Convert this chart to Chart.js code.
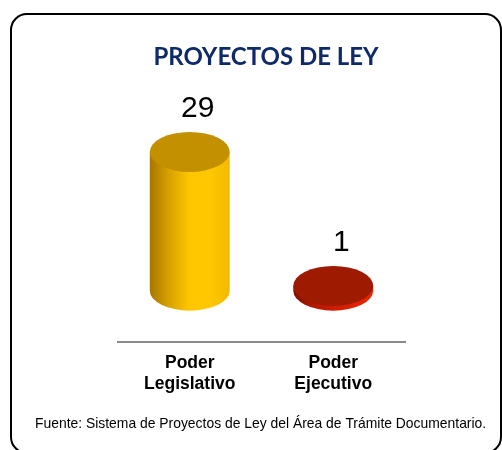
<!DOCTYPE html>
<html>
<head>
<meta charset="utf-8">
<script src="https://cdn.jsdelivr.net/npm/chart.js@4/dist/chart.umd.min.js"></script>
<style>
  html, body { margin: 0; padding: 0; background: #fff; }
  #wrap { width: 502px; height: 450px; }
</style>
</head>
<body>
<div id="wrap"><canvas id="chart" width="502" height="450"></canvas></div>
<script>
// data
const categories = [['Poder', 'Legislativo'], ['Poder', 'Ejecutivo']];
const values = [29, 1];
const chartTitle = 'PROYECTOS DE LEY';
const footnote = 'Fuente: Sistema de Proyectos de Ley del Área de Trámite Documentario.';

// cylinder colours per bar: side gradient stops and top
const sideColors = [
    ['#a87600', '#d9a300', '#ffc600', '#ffc800', '#f2ba00'],
    ['#7e1000', '#b01800', '#cc1c00', '#dc2200', '#e62800']
];
const topColors = ['#c39000', '#9e1a00'];

// draws the round frame around the whole picture
const framePlugin = {
    id: 'frame',
    beforeDraw(chart) {
        const ctx = chart.ctx;
        ctx.save();
        ctx.beginPath();
        ctx.roundRect(11, 14, 490, 439, 16);
        ctx.lineWidth = 2;
        ctx.strokeStyle = '#000';
        ctx.stroke();
        ctx.restore();
    }
};

// turns each bar element into a 3d cylinder and puts the value above it
const cylinderPlugin = {
    id: 'cylinders',
    afterDatasetsDraw(chart) {
        const ctx = chart.ctx;
        const meta = chart.getDatasetMeta(0);
        meta.data.forEach((bar, i) => {
            const { x, y, base, width } = bar.getProps(['x', 'y', 'base', 'width'], true);
            const rx = width / 2;
            const ry = rx * 0.5;

            ctx.save();
            const grad = ctx.createLinearGradient(x - rx, 0, x + rx, 0);
            const stops = sideColors[i];
            stops.forEach((c, k) => grad.addColorStop(k / (stops.length - 1), c));

            ctx.beginPath();
            ctx.moveTo(x - rx, y);
            ctx.lineTo(x - rx, base);
            ctx.ellipse(x, base, rx, ry, 0, Math.PI, 0, true);
            ctx.lineTo(x + rx, y);
            ctx.closePath();
            ctx.fillStyle = grad;
            ctx.fill();

            ctx.beginPath();
            ctx.ellipse(x, y, rx, ry, 0, 0, Math.PI * 2);
            ctx.fillStyle = topColors[i];
            ctx.fill();

            ctx.font = '30px "Liberation Sans", Arial, sans-serif';
            ctx.fillStyle = '#000';
            ctx.textAlign = 'center';
            ctx.textBaseline = 'bottom';
            ctx.fillText(String(values[i]), x + 8, y - ry - 8);
            ctx.restore();
        });
    }
};

new Chart(document.getElementById('chart'), {
    type: 'bar',
    data: {
        labels: categories,
        datasets: [{
            data: values,
            backgroundColor: 'rgba(0,0,0,0)',
            borderWidth: 0,
            categoryPercentage: 1,
            barPercentage: 0.557
        }]
    },
    options: {
        responsive: false,
        animation: false,
        devicePixelRatio: 1,
        layout: { padding: { left: 35, right: 5, top: 43, bottom: 17 } },
        plugins: {
            legend: { display: false },
            tooltip: { enabled: false },
            title: {
                display: true,
                text: chartTitle,
                color: '#0e2a68',
                font: { family: 'Lato', size: 24, weight: 'bold' },
                padding: { top: 0, bottom: 51 }
            },
            subtitle: {
                display: true,
                position: 'bottom',
                align: 'start',
                text: footnote,
                color: '#000',
                font: { family: '"Liberation Sans", Arial', size: 13.9 },
                padding: { top: 18.5, bottom: 0 }
            }
        },
        scales: {
            x: {
                grid: { display: false },
                border: { display: true, color: '#8a8a8a', width: 2 },
                ticks: {
                    color: '#000',
                    padding: 3,
                    font: { family: '"Liberation Sans", Arial', size: 17.5, weight: 'bold', lineHeight: 1.2 },
                    maxRotation: 0
                }
            },
            y: {
                min: -10.7,
                max: 35.1,
                grid: { display: false },
                border: { display: false },
                ticks: { display: false },
                afterFit(scale) { scale.width = 83; }
            },
            y2: {
                position: 'right',
                grid: { display: false },
                border: { display: false },
                ticks: { display: false },
                afterFit(scale) { scale.width = 92; }
            }
        }
    },
    plugins: [framePlugin, cylinderPlugin]
});
</script>
</body>
</html>
